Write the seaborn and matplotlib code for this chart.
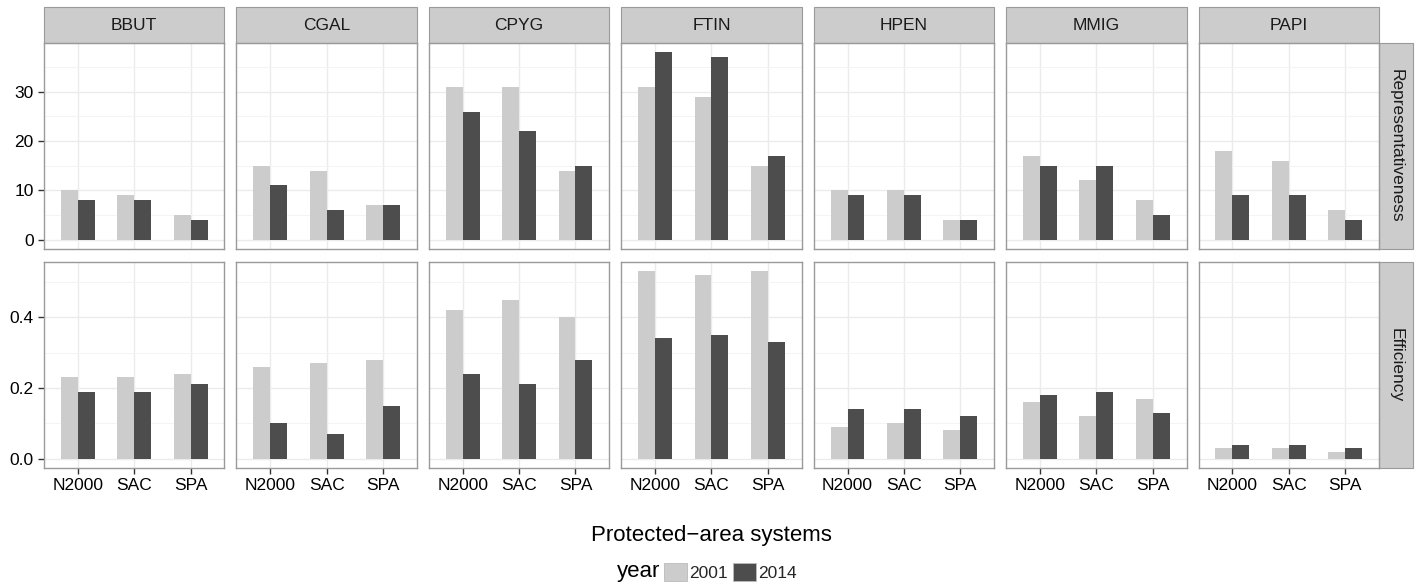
import pandas as pd
import seaborn as sns
import matplotlib.pyplot as plt
from matplotlib.patches import Rectangle, Patch
from matplotlib.ticker import MultipleLocator

# === data ===
species = ["BBUT", "CGAL", "CPYG", "FTIN", "HPEN", "MMIG", "PAPI"]
systems = ["N2000", "SAC", "SPA"]
years = ["2001", "2014"]
metrics = ["Representativeness", "Efficiency"]

# one inner list per species, order N2000, SAC, SPA
repr_2001 = [[10, 9, 5], [15, 14, 7], [31, 31, 14], [31, 29, 15], [10, 10, 4], [17, 12, 8], [18, 16, 6]]
repr_2014 = [[8, 8, 4], [11, 6, 7], [26, 22, 15], [38, 37, 17], [9, 9, 4], [15, 15, 5], [9, 9, 4]]
eff_2001 = [[0.23, 0.23, 0.24], [0.26, 0.27, 0.28], [0.42, 0.45, 0.40], [0.53, 0.52, 0.53],
            [0.09, 0.10, 0.08], [0.16, 0.12, 0.17], [0.03, 0.03, 0.02]]
eff_2014 = [[0.19, 0.19, 0.21], [0.10, 0.07, 0.15], [0.24, 0.21, 0.28], [0.34, 0.35, 0.33],
            [0.14, 0.14, 0.12], [0.18, 0.19, 0.13], [0.04, 0.04, 0.03]]

year_colors = ["#CCCCCC", "#4D4D4D"]

rows = []
for metric, by_year in [("Representativeness", [repr_2001, repr_2014]),
                        ("Efficiency", [eff_2001, eff_2014])]:
    for year, table in zip(years, by_year):
        for sp, vals in zip(species, table):
            for sysname, v in zip(systems, vals):
                rows.append({"metric": metric, "species": sp, "system": sysname,
                             "year": year, "value": v})
df = pd.DataFrame(rows)

# === style ===
sns.set_theme(style="white")
plt.rcParams['font.family'] = ['Liberation Sans', 'DejaVu Sans']
plt.rcParams['axes.unicode_minus'] = False

g = sns.catplot(
    data=df, x="system", y="value", hue="year", col="species", row="metric",
    kind="bar", order=systems, hue_order=years, col_order=species, row_order=metrics,
    palette=year_colors, saturation=1, width=0.6, errorbar=None, linewidth=0,
    sharey="row", legend=False, height=2.0, aspect=0.9,
)
g.set_titles("")
g.set_axis_labels("", "")

fig = g.figure
fig.set_size_inches(14.19, 5.88)
W, H = 1419, 588
pw, ph = 180.4, 206
fig.subplots_adjust(left=44 / W, right=1379 / W, top=1 - 43 / H, bottom=1 - 468 / H,
                    wspace=12 / pw, hspace=13 / ph)

border = "#9A9A9A"
strip_fill = "#CCCCCC"
nrow, ncol = g.axes.shape
for i in range(nrow):
    for j in range(ncol):
        ax = g.axes[i, j]
        ax.set_facecolor("white")
        ax.set_xlim(-0.6, 2.6)
        if i == 0:
            ax.set_ylim(-1.9, 39.9)
            ax.yaxis.set_major_locator(MultipleLocator(10))
            ax.yaxis.set_minor_locator(MultipleLocator(5))
        else:
            ax.set_ylim(-0.0265, 0.5565)
            ax.yaxis.set_major_locator(MultipleLocator(0.2))
            ax.yaxis.set_minor_locator(MultipleLocator(0.1))
        ax.set_axisbelow(True)
        ax.grid(which="major", color="#EBEBEB", lw=1.0)
        ax.grid(which="minor", axis="y", color="#F4F4F4", lw=0.7)
        for s in ax.spines.values():
            s.set_visible(True)
            s.set_color(border)
            s.set_linewidth(1.0)
        ax.tick_params(axis="both", which="major", labelsize=12.5, colors="#333333",
                       labelcolor="black", length=4, width=1.0, pad=3.5,
                       left=(j == 0), bottom=(i == nrow - 1))
        ax.tick_params(which="minor", left=False, bottom=False)

        # top strip
        if i == 0:
            ax.add_patch(Rectangle((0, 1), 1, 36 / ph, transform=ax.transAxes,
                                   clip_on=False, facecolor=strip_fill, edgecolor=border, lw=0.8))
            ax.text(0.5, 1 + 18 / ph, species[j], transform=ax.transAxes, ha="center",
                    va="center", fontsize=12.5, color="#1A1A1A")
        # right strip
        if j == ncol - 1:
            ax.add_patch(Rectangle((1, 0), 34 / pw, 1, transform=ax.transAxes,
                                   clip_on=False, facecolor=strip_fill, edgecolor=border, lw=0.8))
            ax.text(1 + 17 / pw, 0.5, metrics[i], transform=ax.transAxes, ha="center",
                    va="center", rotation=-90, fontsize=12.5, color="#1A1A1A")

fig.text(711.5 / W, 1 - 535 / H, "Protected\u2212area systems", ha="center", va="center",
         fontsize=16, color="black")

fig.text(660 / W, 1 - 572 / H, "year", ha="right", va="center", fontsize=16, color="black")
handles = [Patch(facecolor=c, edgecolor="#BBBBBB", lw=0.6, label=y)
           for c, y in zip(year_colors, years)]
fig.legend(handles=handles, loc="center left", bbox_to_anchor=(664 / W, 1 - 572 / H),
           ncol=2, frameon=False, fontsize=12.5, handlelength=1.3, handleheight=1.3,
           handletextpad=0.15, columnspacing=0.3, borderpad=0, borderaxespad=0)

fig.savefig("out.png", dpi=100)
